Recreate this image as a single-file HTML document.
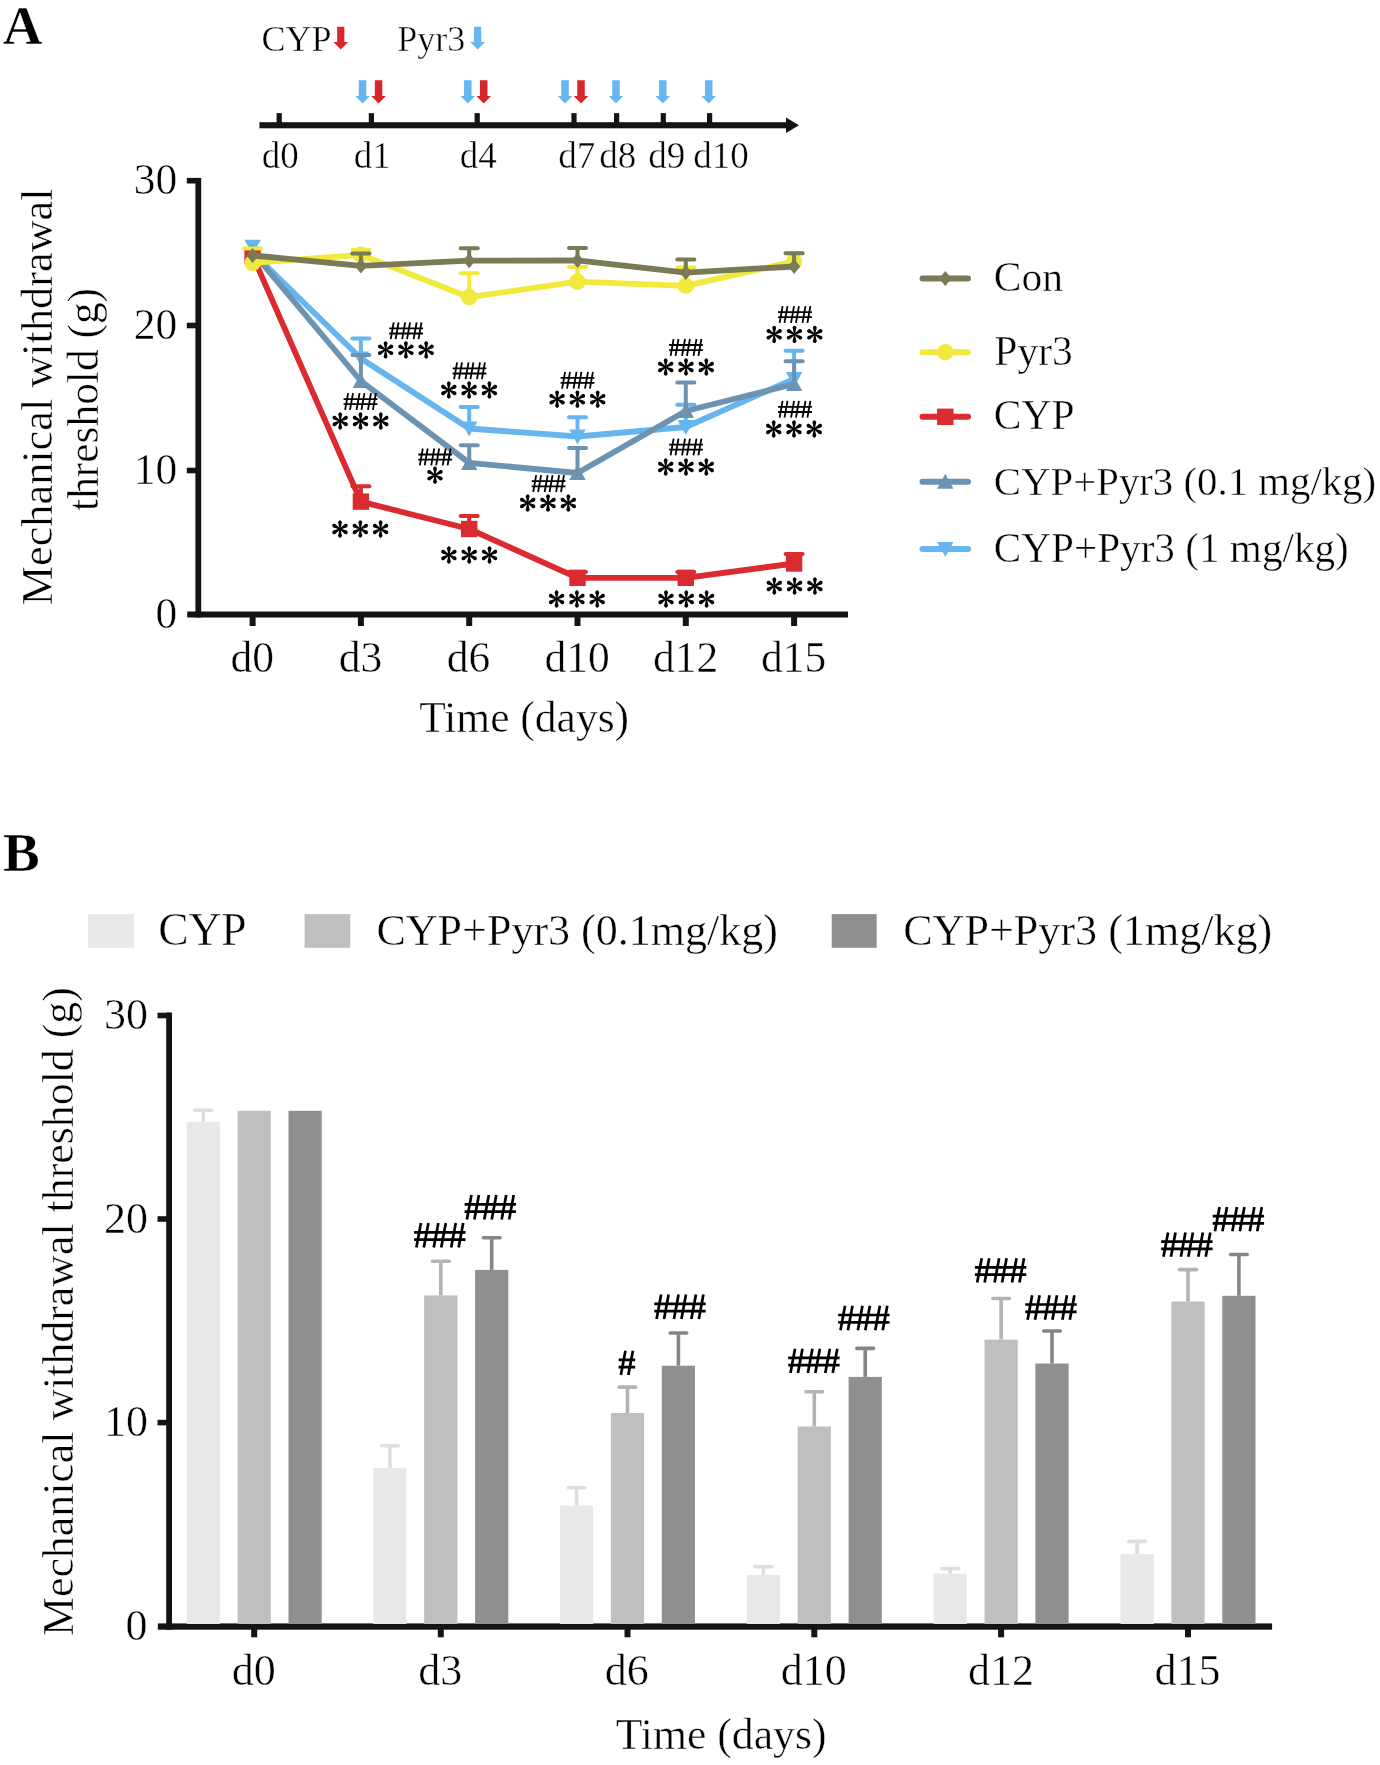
<!DOCTYPE html>
<html><head><meta charset="utf-8"><style>
html,body{margin:0;padding:0;background:#fff;width:1380px;height:1765px;overflow:hidden}
svg{display:block;will-change:transform}
text{font-family:"Liberation Serif",serif;fill:#000;stroke:#fff;stroke-width:0.45px}
</style></head><body>
<svg width="1380" height="1765" viewBox="0 0 1380 1765">
<defs><symbol id="ast" overflow="visible"><g id="arm0"><path d="M-0.5 0L-1.65 -5.6A1.95 1.95 0 1 1 1.65 -5.6L0.5 0Z"/></g><use href="#arm0" transform="rotate(60)"/><use href="#arm0" transform="rotate(120)"/><use href="#arm0" transform="rotate(180)"/><use href="#arm0" transform="rotate(240)"/><use href="#arm0" transform="rotate(300)"/><circle r="1.3"/></symbol></defs>
<rect width="1380" height="1765" fill="#fff"/>
<text x="2.66" y="44.00" font-size="55" font-weight="bold" >A</text>
<text x="261.52" y="50.50" font-size="36" >CYP</text>
<text x="397.16" y="50.50" font-size="36" >Pyr3</text>
<path d="M337.15 26.70H344.35V42.00H348.15L340.75 49.50L333.35 42.00H337.15Z" fill="#d8262a"/>
<path d="M474.00 26.70H481.20V42.00H485.00L477.60 49.50L470.20 42.00H474.00Z" fill="#66b6f0"/>
<path d="M358.80 80.20H366.30V96.10H369.90L362.55 103.60L355.20 96.10H358.80Z" fill="#66b6f0"/>
<path d="M374.80 80.20H382.30V96.10H385.90L378.55 103.60L371.20 96.10H374.80Z" fill="#d8262a"/>
<path d="M464.05 80.20H471.55V96.10H475.15L467.80 103.60L460.45 96.10H464.05Z" fill="#66b6f0"/>
<path d="M479.95 80.20H487.45V96.10H491.05L483.70 103.60L476.35 96.10H479.95Z" fill="#d8262a"/>
<path d="M561.25 80.20H568.75V96.10H572.35L565.00 103.60L557.65 96.10H561.25Z" fill="#66b6f0"/>
<path d="M577.25 80.20H584.75V96.10H588.35L581.00 103.60L573.65 96.10H577.25Z" fill="#d8262a"/>
<path d="M612.25 80.20H619.75V96.10H623.35L616.00 103.60L608.65 96.10H612.25Z" fill="#66b6f0"/>
<path d="M659.05 80.20H666.55V96.10H670.15L662.80 103.60L655.45 96.10H659.05Z" fill="#66b6f0"/>
<path d="M704.95 80.20H712.45V96.10H716.05L708.70 103.60L701.35 96.10H704.95Z" fill="#66b6f0"/>
<rect x="259.40" y="122.20" width="528.60" height="6.10" fill="#141414"/>
<path d="M786 117.5L799 125.2L786 133Z" fill="#141414"/>
<rect x="276.60" y="113.10" width="5.20" height="11.90" fill="#141414"/>
<rect x="368.80" y="113.10" width="5.20" height="11.90" fill="#141414"/>
<rect x="474.60" y="113.10" width="5.20" height="11.90" fill="#141414"/>
<rect x="571.40" y="113.10" width="5.20" height="11.90" fill="#141414"/>
<rect x="614.00" y="113.10" width="5.20" height="11.90" fill="#141414"/>
<rect x="660.70" y="113.10" width="5.20" height="11.90" fill="#141414"/>
<rect x="707.00" y="113.10" width="5.20" height="11.90" fill="#141414"/>
<text x="261.66" y="168.30" font-size="37" >d0</text>
<text x="353.66" y="168.30" font-size="37" >d1</text>
<text x="459.66" y="168.30" font-size="37" >d4</text>
<text x="558.26" y="168.30" font-size="37" >d7</text>
<text x="599.36" y="168.30" font-size="37" >d8</text>
<text x="648.26" y="168.30" font-size="37" >d9</text>
<text x="693.26" y="168.30" font-size="37" >d10</text>
<rect x="195.40" y="178.00" width="5.80" height="439.50" fill="#141414"/>
<rect x="187.20" y="611.50" width="660.80" height="6.00" fill="#141414"/>
<rect x="186.80" y="177.90" width="13.20" height="5.60" fill="#141414"/>
<rect x="186.80" y="322.70" width="13.20" height="5.60" fill="#141414"/>
<rect x="186.80" y="467.70" width="13.20" height="5.60" fill="#141414"/>
<rect x="249.60" y="614.00" width="6.00" height="12.00" fill="#141414"/>
<rect x="357.90" y="614.00" width="6.00" height="12.00" fill="#141414"/>
<rect x="466.20" y="614.00" width="6.00" height="12.00" fill="#141414"/>
<rect x="574.50" y="614.00" width="6.00" height="12.00" fill="#141414"/>
<rect x="682.80" y="614.00" width="6.00" height="12.00" fill="#141414"/>
<rect x="791.10" y="614.00" width="6.00" height="12.00" fill="#141414"/>
<text x="133.76" y="193.90" font-size="43.5" >30</text>
<text x="133.76" y="338.70" font-size="43.5" >20</text>
<text x="133.76" y="483.70" font-size="43.5" >10</text>
<text x="155.51" y="627.70" font-size="43.5" >0</text>
<text x="230.39" y="672.20" font-size="43.5" >d0</text>
<text x="338.71" y="672.20" font-size="43.5" >d3</text>
<text x="446.81" y="672.20" font-size="43.5" >d6</text>
<text x="544.42" y="672.20" font-size="43.5" >d10</text>
<text x="653.09" y="672.20" font-size="43.5" >d12</text>
<text x="761.04" y="672.20" font-size="43.5" >d15</text>
<text x="419.21" y="731.50" font-size="43.5" >Time (days)</text>
<g transform="translate(51.6 604.1) rotate(-90)">
<text x="-1.28" y="0.00" font-size="44.3" >Mechanical withdrawal</text>
</g>
<g transform="translate(98.3 510.5) rotate(-90)">
<text x="-0.42" y="0.00" font-size="43.4" >threshold (g)</text>
</g>
<line x1="360.9" y1="358.5" x2="360.9" y2="338.6" stroke="#67b5ef" stroke-width="4"/>
<line x1="352.4" y1="338.6" x2="369.4" y2="338.6" stroke="#67b5ef" stroke-width="4" stroke-linecap="round"/>
<line x1="469.2" y1="428.5" x2="469.2" y2="407" stroke="#67b5ef" stroke-width="4"/>
<line x1="460.7" y1="407" x2="477.7" y2="407" stroke="#67b5ef" stroke-width="4" stroke-linecap="round"/>
<line x1="577.5" y1="436.5" x2="577.5" y2="417.3" stroke="#67b5ef" stroke-width="4"/>
<line x1="569.0" y1="417.3" x2="586.0" y2="417.3" stroke="#67b5ef" stroke-width="4" stroke-linecap="round"/>
<line x1="685.8" y1="427" x2="685.8" y2="404.7" stroke="#67b5ef" stroke-width="4"/>
<line x1="677.3" y1="404.7" x2="694.3" y2="404.7" stroke="#67b5ef" stroke-width="4" stroke-linecap="round"/>
<line x1="794.1" y1="379" x2="794.1" y2="350.7" stroke="#67b5ef" stroke-width="4"/>
<line x1="785.6" y1="350.7" x2="802.6" y2="350.7" stroke="#67b5ef" stroke-width="4" stroke-linecap="round"/>
<polyline points="252.6,252.5 360.9,358.5 469.2,428.5 577.5,436.5 685.8,427 794.1,379" fill="none" stroke="#67b5ef" stroke-width="5.8" stroke-linejoin="round"/>
<path d="M252.6 254.8L260.8 239.8L244.4 239.8Z" fill="#67b5ef"/>
<path d="M360.9 366.5L369.09999999999997 351.5L352.7 351.5Z" fill="#67b5ef"/>
<path d="M469.2 436.5L477.4 421.5L461.0 421.5Z" fill="#67b5ef"/>
<path d="M577.5 444.5L585.7 429.5L569.3 429.5Z" fill="#67b5ef"/>
<path d="M685.8 435L694.0 420L677.5999999999999 420Z" fill="#67b5ef"/>
<path d="M794.1 387L802.3000000000001 372L785.9 372Z" fill="#67b5ef"/>
<line x1="360.9" y1="381" x2="360.9" y2="355" stroke="#6c93b1" stroke-width="4"/>
<line x1="352.4" y1="355" x2="369.4" y2="355" stroke="#6c93b1" stroke-width="4" stroke-linecap="round"/>
<line x1="469.2" y1="462.9" x2="469.2" y2="445.2" stroke="#6c93b1" stroke-width="4"/>
<line x1="460.7" y1="445.2" x2="477.7" y2="445.2" stroke="#6c93b1" stroke-width="4" stroke-linecap="round"/>
<line x1="577.5" y1="473" x2="577.5" y2="448.1" stroke="#6c93b1" stroke-width="4"/>
<line x1="569.0" y1="448.1" x2="586.0" y2="448.1" stroke="#6c93b1" stroke-width="4" stroke-linecap="round"/>
<line x1="685.8" y1="411" x2="685.8" y2="382.6" stroke="#6c93b1" stroke-width="4"/>
<line x1="677.3" y1="382.6" x2="694.3" y2="382.6" stroke="#6c93b1" stroke-width="4" stroke-linecap="round"/>
<line x1="794.1" y1="384" x2="794.1" y2="361.3" stroke="#6c93b1" stroke-width="4"/>
<line x1="785.6" y1="361.3" x2="802.6" y2="361.3" stroke="#6c93b1" stroke-width="4" stroke-linecap="round"/>
<polyline points="252.6,252 360.9,381 469.2,462.9 577.5,473 685.8,411 794.1,384" fill="none" stroke="#6c93b1" stroke-width="5.8" stroke-linejoin="round"/>
<path d="M252.6 244L260.8 259L244.4 259Z" fill="#6c93b1"/>
<path d="M360.9 373L369.09999999999997 388L352.7 388Z" fill="#6c93b1"/>
<path d="M469.2 454.9L477.4 469.9L461.0 469.9Z" fill="#6c93b1"/>
<path d="M577.5 465L585.7 480L569.3 480Z" fill="#6c93b1"/>
<path d="M685.8 403L694.0 418L677.5999999999999 418Z" fill="#6c93b1"/>
<path d="M794.1 376L802.3000000000001 391L785.9 391Z" fill="#6c93b1"/>
<line x1="360.9" y1="501.6" x2="360.9" y2="486.2" stroke="#da2b30" stroke-width="4"/>
<line x1="352.4" y1="486.2" x2="369.4" y2="486.2" stroke="#da2b30" stroke-width="4" stroke-linecap="round"/>
<line x1="469.2" y1="529" x2="469.2" y2="516" stroke="#da2b30" stroke-width="4"/>
<line x1="460.7" y1="516" x2="477.7" y2="516" stroke="#da2b30" stroke-width="4" stroke-linecap="round"/>
<line x1="577.5" y1="577.8" x2="577.5" y2="572" stroke="#da2b30" stroke-width="4"/>
<line x1="569.0" y1="572" x2="586.0" y2="572" stroke="#da2b30" stroke-width="4" stroke-linecap="round"/>
<line x1="685.8" y1="577.8" x2="685.8" y2="572" stroke="#da2b30" stroke-width="4"/>
<line x1="677.3" y1="572" x2="694.3" y2="572" stroke="#da2b30" stroke-width="4" stroke-linecap="round"/>
<line x1="794.1" y1="563.5" x2="794.1" y2="554" stroke="#da2b30" stroke-width="4"/>
<line x1="785.6" y1="554" x2="802.6" y2="554" stroke="#da2b30" stroke-width="4" stroke-linecap="round"/>
<polyline points="252.6,255.6 360.9,501.6 469.2,529 577.5,577.8 685.8,577.8 794.1,563.5" fill="none" stroke="#da2b30" stroke-width="5.8" stroke-linejoin="round"/>
<rect x="244.4" y="247.4" width="16.4" height="16.4" fill="#da2b30"/>
<rect x="352.7" y="493.40000000000003" width="16.4" height="16.4" fill="#da2b30"/>
<rect x="461.0" y="520.8" width="16.4" height="16.4" fill="#da2b30"/>
<rect x="569.3" y="569.5999999999999" width="16.4" height="16.4" fill="#da2b30"/>
<rect x="677.5999999999999" y="569.5999999999999" width="16.4" height="16.4" fill="#da2b30"/>
<rect x="785.9" y="555.3" width="16.4" height="16.4" fill="#da2b30"/>
<line x1="252.6" y1="262.9" x2="252.6" y2="248.4" stroke="#f1e93c" stroke-width="4"/>
<line x1="244.1" y1="248.4" x2="261.1" y2="248.4" stroke="#f1e93c" stroke-width="4" stroke-linecap="round"/>
<line x1="360.9" y1="254.8" x2="360.9" y2="250" stroke="#f1e93c" stroke-width="4"/>
<line x1="352.4" y1="250" x2="369.4" y2="250" stroke="#f1e93c" stroke-width="4" stroke-linecap="round"/>
<line x1="469.2" y1="297.2" x2="469.2" y2="273.2" stroke="#f1e93c" stroke-width="4"/>
<line x1="460.7" y1="273.2" x2="477.7" y2="273.2" stroke="#f1e93c" stroke-width="4" stroke-linecap="round"/>
<line x1="577.5" y1="281.7" x2="577.5" y2="266.9" stroke="#f1e93c" stroke-width="4"/>
<line x1="569.0" y1="266.9" x2="586.0" y2="266.9" stroke="#f1e93c" stroke-width="4" stroke-linecap="round"/>
<line x1="685.8" y1="285.8" x2="685.8" y2="267.5" stroke="#f1e93c" stroke-width="4"/>
<line x1="677.3" y1="267.5" x2="694.3" y2="267.5" stroke="#f1e93c" stroke-width="4" stroke-linecap="round"/>
<line x1="794.1" y1="261.4" x2="794.1" y2="253" stroke="#f1e93c" stroke-width="4"/>
<line x1="785.6" y1="253" x2="802.6" y2="253" stroke="#f1e93c" stroke-width="4" stroke-linecap="round"/>
<polyline points="252.6,262.9 360.9,254.8 469.2,297.2 577.5,281.7 685.8,285.8 794.1,261.4" fill="none" stroke="#f1e93c" stroke-width="5.8" stroke-linejoin="round"/>
<circle cx="252.6" cy="262.9" r="8.2" fill="#f1e93c"/>
<circle cx="360.9" cy="254.8" r="8.2" fill="#f1e93c"/>
<circle cx="469.2" cy="297.2" r="8.2" fill="#f1e93c"/>
<circle cx="577.5" cy="281.7" r="8.2" fill="#f1e93c"/>
<circle cx="685.8" cy="285.8" r="8.2" fill="#f1e93c"/>
<circle cx="794.1" cy="261.4" r="8.2" fill="#f1e93c"/>
<line x1="360.9" y1="265.9" x2="360.9" y2="253.5" stroke="#7b7a56" stroke-width="4"/>
<line x1="352.4" y1="253.5" x2="369.4" y2="253.5" stroke="#7b7a56" stroke-width="4" stroke-linecap="round"/>
<line x1="469.2" y1="260.7" x2="469.2" y2="248.3" stroke="#7b7a56" stroke-width="4"/>
<line x1="460.7" y1="248.3" x2="477.7" y2="248.3" stroke="#7b7a56" stroke-width="4" stroke-linecap="round"/>
<line x1="577.5" y1="260.4" x2="577.5" y2="247.9" stroke="#7b7a56" stroke-width="4"/>
<line x1="569.0" y1="247.9" x2="586.0" y2="247.9" stroke="#7b7a56" stroke-width="4" stroke-linecap="round"/>
<line x1="685.8" y1="272.6" x2="685.8" y2="259.4" stroke="#7b7a56" stroke-width="4"/>
<line x1="677.3" y1="259.4" x2="694.3" y2="259.4" stroke="#7b7a56" stroke-width="4" stroke-linecap="round"/>
<line x1="794.1" y1="266.5" x2="794.1" y2="253.3" stroke="#7b7a56" stroke-width="4"/>
<line x1="785.6" y1="253.3" x2="802.6" y2="253.3" stroke="#7b7a56" stroke-width="4" stroke-linecap="round"/>
<polyline points="252.6,255.4 360.9,265.9 469.2,260.7 577.5,260.4 685.8,272.6 794.1,266.5" fill="none" stroke="#7b7a56" stroke-width="5.8" stroke-linejoin="round"/>
<path d="M252.6 247.9L258.8 255.4L252.6 262.9L246.4 255.4Z" fill="#7b7a56"/>
<path d="M360.9 258.4L367.09999999999997 265.9L360.9 273.4L354.7 265.9Z" fill="#7b7a56"/>
<path d="M469.2 253.2L475.4 260.7L469.2 268.2L463.0 260.7Z" fill="#7b7a56"/>
<path d="M577.5 252.89999999999998L583.7 260.4L577.5 267.9L571.3 260.4Z" fill="#7b7a56"/>
<path d="M685.8 265.1L692.0 272.6L685.8 280.1L679.5999999999999 272.6Z" fill="#7b7a56"/>
<path d="M794.1 259.0L800.3000000000001 266.5L794.1 274.0L787.9 266.5Z" fill="#7b7a56"/>
<use href="#ast" x="340.00" y="529.00"/>
<use href="#ast" x="360.30" y="529.00"/>
<use href="#ast" x="380.60" y="529.00"/>
<use href="#ast" x="448.90" y="555.00"/>
<use href="#ast" x="469.20" y="555.00"/>
<use href="#ast" x="489.50" y="555.00"/>
<use href="#ast" x="556.60" y="599.00"/>
<use href="#ast" x="576.90" y="599.00"/>
<use href="#ast" x="597.20" y="599.00"/>
<use href="#ast" x="666.00" y="599.00"/>
<use href="#ast" x="686.30" y="599.00"/>
<use href="#ast" x="706.60" y="599.00"/>
<use href="#ast" x="774.30" y="586.00"/>
<use href="#ast" x="794.60" y="586.00"/>
<use href="#ast" x="814.90" y="586.00"/>
<use href="#ast" x="385.60" y="349.80"/>
<use href="#ast" x="405.90" y="349.80"/>
<use href="#ast" x="426.20" y="349.80"/>
<path d="M390.70 339.20L393.70 322.40M395.60 339.20L398.60 322.40M402.15 339.20L405.15 322.40M407.05 339.20L410.05 322.40M413.60 339.20L416.60 322.40M418.50 339.20L421.50 322.40M389.20 328.40H423.00M389.20 333.50H423.00" stroke="#000" stroke-width="1.8" fill="none"/>
<use href="#ast" x="340.20" y="421.00"/>
<use href="#ast" x="360.50" y="421.00"/>
<use href="#ast" x="380.80" y="421.00"/>
<path d="M345.10 409.90L348.10 393.10M350.00 409.90L353.00 393.10M356.55 409.90L359.55 393.10M361.45 409.90L364.45 393.10M368.00 409.90L371.00 393.10M372.90 409.90L375.90 393.10M343.60 399.10H377.40M343.60 404.20H377.40" stroke="#000" stroke-width="1.8" fill="none"/>
<use href="#ast" x="448.80" y="390.00"/>
<use href="#ast" x="469.10" y="390.00"/>
<use href="#ast" x="489.40" y="390.00"/>
<path d="M454.10 379.20L457.10 362.40M459.00 379.20L462.00 362.40M465.55 379.20L468.55 362.40M470.45 379.20L473.45 362.40M477.00 379.20L480.00 362.40M481.90 379.20L484.90 362.40M452.60 368.40H486.40M452.60 373.50H486.40" stroke="#000" stroke-width="1.8" fill="none"/>
<use href="#ast" x="435" y="475.2"/>
<path d="M419.80 465.30L422.80 448.50M424.70 465.30L427.70 448.50M431.25 465.30L434.25 448.50M436.15 465.30L439.15 448.50M442.70 465.30L445.70 448.50M447.60 465.30L450.60 448.50M418.30 454.50H452.10M418.30 459.60H452.10" stroke="#000" stroke-width="1.8" fill="none"/>
<use href="#ast" x="557.10" y="399.20"/>
<use href="#ast" x="577.40" y="399.20"/>
<use href="#ast" x="597.70" y="399.20"/>
<path d="M562.10 388.60L565.10 371.80M567.00 388.60L570.00 371.80M573.55 388.60L576.55 371.80M578.45 388.60L581.45 371.80M585.00 388.60L588.00 371.80M589.90 388.60L592.90 371.80M560.60 377.80H594.40M560.60 382.90H594.40" stroke="#000" stroke-width="1.8" fill="none"/>
<use href="#ast" x="527.70" y="503.00"/>
<use href="#ast" x="548.00" y="503.00"/>
<use href="#ast" x="568.30" y="503.00"/>
<path d="M533.20 492.00L536.20 475.20M538.10 492.00L541.10 475.20M544.65 492.00L547.65 475.20M549.55 492.00L552.55 475.20M556.10 492.00L559.10 475.20M561.00 492.00L564.00 475.20M531.70 481.20H565.50M531.70 486.30H565.50" stroke="#000" stroke-width="1.8" fill="none"/>
<use href="#ast" x="665.70" y="367.00"/>
<use href="#ast" x="686.00" y="367.00"/>
<use href="#ast" x="706.30" y="367.00"/>
<path d="M670.60 355.80L673.60 339.00M675.50 355.80L678.50 339.00M682.05 355.80L685.05 339.00M686.95 355.80L689.95 339.00M693.50 355.80L696.50 339.00M698.40 355.80L701.40 339.00M669.10 345.00H702.90M669.10 350.10H702.90" stroke="#000" stroke-width="1.8" fill="none"/>
<use href="#ast" x="665.70" y="467.00"/>
<use href="#ast" x="686.00" y="467.00"/>
<use href="#ast" x="706.30" y="467.00"/>
<path d="M670.60 455.40L673.60 438.60M675.50 455.40L678.50 438.60M682.05 455.40L685.05 438.60M686.95 455.40L689.95 438.60M693.50 455.40L696.50 438.60M698.40 455.40L701.40 438.60M669.10 444.60H702.90M669.10 449.70H702.90" stroke="#000" stroke-width="1.8" fill="none"/>
<use href="#ast" x="774.20" y="334.30"/>
<use href="#ast" x="794.50" y="334.30"/>
<use href="#ast" x="814.80" y="334.30"/>
<path d="M779.60 322.90L782.60 306.10M784.50 322.90L787.50 306.10M791.05 322.90L794.05 306.10M795.95 322.90L798.95 306.10M802.50 322.90L805.50 306.10M807.40 322.90L810.40 306.10M778.10 312.10H811.90M778.10 317.20H811.90" stroke="#000" stroke-width="1.8" fill="none"/>
<use href="#ast" x="773.70" y="429.00"/>
<use href="#ast" x="794.00" y="429.00"/>
<use href="#ast" x="814.30" y="429.00"/>
<path d="M779.60 417.70L782.60 400.90M784.50 417.70L787.50 400.90M791.05 417.70L794.05 400.90M795.95 417.70L798.95 400.90M802.50 417.70L805.50 400.90M807.40 417.70L810.40 400.90M778.10 406.90H811.90M778.10 412.00H811.90" stroke="#000" stroke-width="1.8" fill="none"/>
<line x1="922.5" y1="278.4" x2="968" y2="278.4" stroke="#7b7a56" stroke-width="6" stroke-linecap="round"/>
<path d="M945.3 270.9L951.5 278.4L945.3 285.9L939.0999999999999 278.4Z" fill="#7b7a56"/>
<text x="993.80" y="290.70" font-size="41.5" >Con</text>
<line x1="922.5" y1="352.3" x2="968" y2="352.3" stroke="#f1e93c" stroke-width="6" stroke-linecap="round"/>
<circle cx="945.3" cy="352.3" r="8.2" fill="#f1e93c"/>
<text x="994.30" y="365.40" font-size="41.5" >Pyr3</text>
<line x1="922.5" y1="416.8" x2="968" y2="416.8" stroke="#da2b30" stroke-width="6" stroke-linecap="round"/>
<rect x="937.0999999999999" y="408.6" width="16.4" height="16.4" fill="#da2b30"/>
<text x="993.80" y="429.20" font-size="41.5" >CYP</text>
<line x1="922.5" y1="481.7" x2="968" y2="481.7" stroke="#6c93b1" stroke-width="6" stroke-linecap="round"/>
<path d="M945.3 473.7L953.5 488.7L937.0999999999999 488.7Z" fill="#6c93b1"/>
<text x="993.83" y="494.60" font-size="40.8" >CYP+Pyr3 (0.1 mg/kg)</text>
<line x1="922.5" y1="548.9" x2="968" y2="548.9" stroke="#67b5ef" stroke-width="6" stroke-linecap="round"/>
<path d="M945.3 556.9L953.5 541.9L937.0999999999999 541.9Z" fill="#67b5ef"/>
<text x="993.81" y="561.70" font-size="41.2" >CYP+Pyr3 (1 mg/kg)</text>
<text x="3.09" y="871.00" font-size="55" font-weight="bold" >B</text>
<rect x="87.80" y="914.10" width="46.10" height="33.70" fill="#e8e8e8"/>
<text x="158.13" y="945.30" font-size="45.5" >CYP</text>
<rect x="304.60" y="914.10" width="45.60" height="33.70" fill="#bfbfbf"/>
<text x="376.50" y="945.30" font-size="44" >CYP+Pyr3 (0.1mg/kg)</text>
<rect x="831.70" y="914.10" width="45.00" height="33.70" fill="#8f8f8f"/>
<text x="903.19" y="945.30" font-size="44.1" >CYP+Pyr3 (1mg/kg)</text>
<rect x="166.20" y="1012.50" width="5.80" height="617.20" fill="#141414"/>
<rect x="157.80" y="1623.40" width="1114.30" height="6.30" fill="#141414"/>
<rect x="157.50" y="1012.70" width="12.50" height="5.60" fill="#141414"/>
<text x="104.08" y="1029.30" font-size="44" >30</text>
<rect x="157.50" y="1216.20" width="12.50" height="5.60" fill="#141414"/>
<text x="104.08" y="1232.80" font-size="44" >20</text>
<rect x="157.50" y="1419.80" width="12.50" height="5.60" fill="#141414"/>
<text x="104.08" y="1436.40" font-size="44" >10</text>
<text x="125.38" y="1640.30" font-size="44" >0</text>
<rect x="251.20" y="1626.00" width="6.00" height="11.30" fill="#141414"/>
<rect x="437.80" y="1626.00" width="6.00" height="11.30" fill="#141414"/>
<rect x="624.50" y="1626.00" width="6.00" height="11.30" fill="#141414"/>
<rect x="811.30" y="1626.00" width="6.00" height="11.30" fill="#141414"/>
<rect x="998.10" y="1626.00" width="6.00" height="11.30" fill="#141414"/>
<rect x="1185.00" y="1626.00" width="6.00" height="11.30" fill="#141414"/>
<text x="231.64" y="1684.50" font-size="44" >d0</text>
<text x="418.26" y="1684.50" font-size="44" >d3</text>
<text x="604.76" y="1684.50" font-size="44" >d6</text>
<text x="780.74" y="1684.50" font-size="44" >d10</text>
<text x="967.92" y="1684.50" font-size="44" >d12</text>
<text x="1154.46" y="1684.50" font-size="44" >d15</text>
<text x="615.71" y="1748.50" font-size="43.7" >Time (days)</text>
<g transform="translate(73.3 1634.8) rotate(-90)">
<text x="-1.26" y="0.00" font-size="43.85" >Mechanical withdrawal threshold (g)</text>
</g>
<line x1="203.30" y1="1121.9" x2="203.30" y2="1110.2" stroke="#dedede" stroke-width="3.6"/>
<line x1="195.00" y1="1110.2" x2="211.60" y2="1110.2" stroke="#dedede" stroke-width="3.6" stroke-linecap="round"/>
<rect x="186.70" y="1121.90" width="33.20" height="502.10" fill="#e8e8e8"/>
<rect x="237.60" y="1110.80" width="33.20" height="513.20" fill="#bfbfbf"/>
<rect x="288.50" y="1110.80" width="33.20" height="513.20" fill="#8f8f8f"/>
<line x1="389.90" y1="1467.8" x2="389.90" y2="1445.7" stroke="#dedede" stroke-width="3.6"/>
<line x1="381.60" y1="1445.7" x2="398.20" y2="1445.7" stroke="#dedede" stroke-width="3.6" stroke-linecap="round"/>
<rect x="373.30" y="1467.80" width="33.20" height="156.20" fill="#e8e8e8"/>
<line x1="440.80" y1="1295.4" x2="440.80" y2="1261.3" stroke="#b3b3b3" stroke-width="3.6"/>
<line x1="432.50" y1="1261.3" x2="449.10" y2="1261.3" stroke="#b3b3b3" stroke-width="3.6" stroke-linecap="round"/>
<rect x="424.20" y="1295.40" width="33.20" height="328.60" fill="#bfbfbf"/>
<line x1="491.70" y1="1269.9" x2="491.70" y2="1237.8" stroke="#858585" stroke-width="3.6"/>
<line x1="483.40" y1="1237.8" x2="500.00" y2="1237.8" stroke="#858585" stroke-width="3.6" stroke-linecap="round"/>
<rect x="475.10" y="1269.90" width="33.20" height="354.10" fill="#8f8f8f"/>
<line x1="576.60" y1="1505.5" x2="576.60" y2="1487.8" stroke="#dedede" stroke-width="3.6"/>
<line x1="568.30" y1="1487.8" x2="584.90" y2="1487.8" stroke="#dedede" stroke-width="3.6" stroke-linecap="round"/>
<rect x="560.00" y="1505.50" width="33.20" height="118.50" fill="#e8e8e8"/>
<line x1="627.50" y1="1413" x2="627.50" y2="1387.1" stroke="#b3b3b3" stroke-width="3.6"/>
<line x1="619.20" y1="1387.1" x2="635.80" y2="1387.1" stroke="#b3b3b3" stroke-width="3.6" stroke-linecap="round"/>
<rect x="610.90" y="1413.00" width="33.20" height="211.00" fill="#bfbfbf"/>
<line x1="678.40" y1="1365.7" x2="678.40" y2="1333" stroke="#858585" stroke-width="3.6"/>
<line x1="670.10" y1="1333" x2="686.70" y2="1333" stroke="#858585" stroke-width="3.6" stroke-linecap="round"/>
<rect x="661.80" y="1365.70" width="33.20" height="258.30" fill="#8f8f8f"/>
<line x1="763.40" y1="1574.9" x2="763.40" y2="1566.7" stroke="#dedede" stroke-width="3.6"/>
<line x1="755.10" y1="1566.7" x2="771.70" y2="1566.7" stroke="#dedede" stroke-width="3.6" stroke-linecap="round"/>
<rect x="746.80" y="1574.90" width="33.20" height="49.10" fill="#e8e8e8"/>
<line x1="814.30" y1="1426.5" x2="814.30" y2="1391.8" stroke="#b3b3b3" stroke-width="3.6"/>
<line x1="806.00" y1="1391.8" x2="822.60" y2="1391.8" stroke="#b3b3b3" stroke-width="3.6" stroke-linecap="round"/>
<rect x="797.70" y="1426.50" width="33.20" height="197.50" fill="#bfbfbf"/>
<line x1="865.20" y1="1376.9" x2="865.20" y2="1348.4" stroke="#858585" stroke-width="3.6"/>
<line x1="856.90" y1="1348.4" x2="873.50" y2="1348.4" stroke="#858585" stroke-width="3.6" stroke-linecap="round"/>
<rect x="848.60" y="1376.90" width="33.20" height="247.10" fill="#8f8f8f"/>
<line x1="950.20" y1="1573.7" x2="950.20" y2="1568.6" stroke="#dedede" stroke-width="3.6"/>
<line x1="941.90" y1="1568.6" x2="958.50" y2="1568.6" stroke="#dedede" stroke-width="3.6" stroke-linecap="round"/>
<rect x="933.60" y="1573.70" width="33.20" height="50.30" fill="#e8e8e8"/>
<line x1="1001.10" y1="1339.6" x2="1001.10" y2="1298.5" stroke="#b3b3b3" stroke-width="3.6"/>
<line x1="992.80" y1="1298.5" x2="1009.40" y2="1298.5" stroke="#b3b3b3" stroke-width="3.6" stroke-linecap="round"/>
<rect x="984.50" y="1339.60" width="33.20" height="284.40" fill="#bfbfbf"/>
<line x1="1052.00" y1="1363.5" x2="1052.00" y2="1331" stroke="#858585" stroke-width="3.6"/>
<line x1="1043.70" y1="1331" x2="1060.30" y2="1331" stroke="#858585" stroke-width="3.6" stroke-linecap="round"/>
<rect x="1035.40" y="1363.50" width="33.20" height="260.50" fill="#8f8f8f"/>
<line x1="1137.10" y1="1554.2" x2="1137.10" y2="1541.4" stroke="#dedede" stroke-width="3.6"/>
<line x1="1128.80" y1="1541.4" x2="1145.40" y2="1541.4" stroke="#dedede" stroke-width="3.6" stroke-linecap="round"/>
<rect x="1120.50" y="1554.20" width="33.20" height="69.80" fill="#e8e8e8"/>
<line x1="1188.00" y1="1301.5" x2="1188.00" y2="1269.6" stroke="#b3b3b3" stroke-width="3.6"/>
<line x1="1179.70" y1="1269.6" x2="1196.30" y2="1269.6" stroke="#b3b3b3" stroke-width="3.6" stroke-linecap="round"/>
<rect x="1171.40" y="1301.50" width="33.20" height="322.50" fill="#bfbfbf"/>
<line x1="1238.90" y1="1295.8" x2="1238.90" y2="1254.5" stroke="#858585" stroke-width="3.6"/>
<line x1="1230.60" y1="1254.5" x2="1247.20" y2="1254.5" stroke="#858585" stroke-width="3.6" stroke-linecap="round"/>
<rect x="1222.30" y="1295.80" width="33.20" height="328.20" fill="#8f8f8f"/>
<path d="M416.38 1247.50L420.94 1223.10M423.83 1247.50L428.39 1223.10M433.78 1247.50L438.34 1223.10M441.23 1247.50L445.79 1223.10M451.19 1247.50L455.75 1223.10M458.64 1247.50L463.20 1223.10M414.10 1232.30H465.48M414.10 1239.60H465.48" stroke="#000" stroke-width="2.7" fill="none"/>
<path d="M466.88 1219.50L471.44 1195.10M474.33 1219.50L478.89 1195.10M484.28 1219.50L488.84 1195.10M491.73 1219.50L496.29 1195.10M501.69 1219.50L506.25 1195.10M509.14 1219.50L513.70 1195.10M464.60 1204.30H515.98M464.60 1211.60H515.98" stroke="#000" stroke-width="2.7" fill="none"/>
<path d="M620.88 1375.10L625.44 1350.70M628.33 1375.10L632.89 1350.70M618.60 1359.90H635.17M618.60 1367.20H635.17" stroke="#000" stroke-width="2.7" fill="none"/>
<path d="M656.58 1319.00L661.14 1294.60M664.03 1319.00L668.59 1294.60M673.98 1319.00L678.54 1294.60M681.43 1319.00L685.99 1294.60M691.39 1319.00L695.95 1294.60M698.84 1319.00L703.40 1294.60M654.30 1303.80H705.68M654.30 1311.10H705.68" stroke="#000" stroke-width="2.7" fill="none"/>
<path d="M790.48 1373.10L795.04 1348.70M797.93 1373.10L802.49 1348.70M807.88 1373.10L812.44 1348.70M815.33 1373.10L819.89 1348.70M825.29 1373.10L829.85 1348.70M832.74 1373.10L837.30 1348.70M788.20 1357.90H839.58M788.20 1365.20H839.58" stroke="#000" stroke-width="2.7" fill="none"/>
<path d="M840.48 1330.20L845.04 1305.80M847.93 1330.20L852.49 1305.80M857.88 1330.20L862.44 1305.80M865.33 1330.20L869.89 1305.80M875.29 1330.20L879.85 1305.80M882.74 1330.20L887.30 1305.80M838.20 1315.00H889.58M838.20 1322.30H889.58" stroke="#000" stroke-width="2.7" fill="none"/>
<path d="M977.18 1282.60L981.74 1258.20M984.63 1282.60L989.19 1258.20M994.58 1282.60L999.14 1258.20M1002.03 1282.60L1006.59 1258.20M1011.99 1282.60L1016.55 1258.20M1019.44 1282.60L1024.00 1258.20M974.90 1267.40H1026.28M974.90 1274.70H1026.28" stroke="#000" stroke-width="2.7" fill="none"/>
<path d="M1027.58 1319.70L1032.14 1295.30M1035.03 1319.70L1039.59 1295.30M1044.98 1319.70L1049.54 1295.30M1052.43 1319.70L1056.99 1295.30M1062.39 1319.70L1066.95 1295.30M1069.84 1319.70L1074.40 1295.30M1025.30 1304.50H1076.68M1025.30 1311.80H1076.68" stroke="#000" stroke-width="2.7" fill="none"/>
<path d="M1163.48 1256.80L1168.04 1232.40M1170.93 1256.80L1175.49 1232.40M1180.88 1256.80L1185.44 1232.40M1188.33 1256.80L1192.89 1232.40M1198.29 1256.80L1202.85 1232.40M1205.74 1256.80L1210.30 1232.40M1161.20 1241.60H1212.58M1161.20 1248.90H1212.58" stroke="#000" stroke-width="2.7" fill="none"/>
<path d="M1214.98 1231.30L1219.54 1206.90M1222.43 1231.30L1226.99 1206.90M1232.38 1231.30L1236.94 1206.90M1239.83 1231.30L1244.39 1206.90M1249.79 1231.30L1254.35 1206.90M1257.24 1231.30L1261.80 1206.90M1212.70 1216.10H1264.08M1212.70 1223.40H1264.08" stroke="#000" stroke-width="2.7" fill="none"/>
</svg></body></html>
